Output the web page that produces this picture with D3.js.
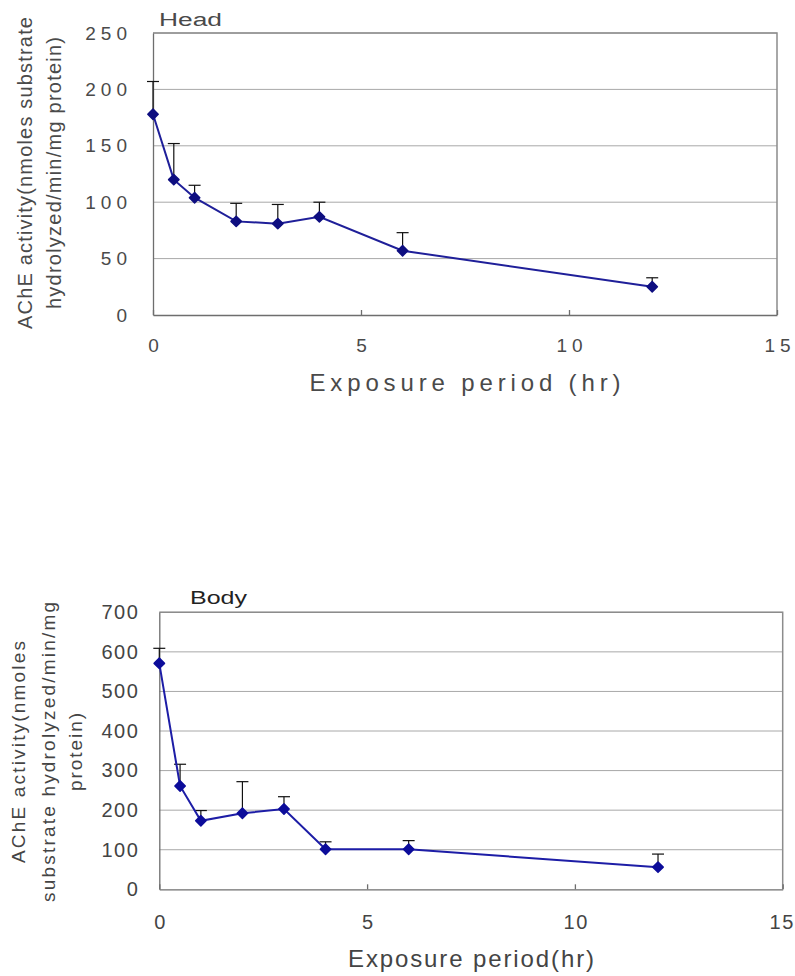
<!DOCTYPE html>
<html lang="en">
<head>
  <meta charset="UTF-8"/>
  <title>AChE activity vs exposure period</title>
  <style>
    * { margin: 0; padding: 0; }
    body { background: #fff; width: 795px; height: 976px; overflow: hidden; }
    svg { display: block; font-family: "Liberation Sans", Arial, sans-serif; }
    .grid { stroke: #a8a8a8; stroke-width: 1px; }
    .frame { stroke: #8c8c8c; stroke-width: 1.5px; fill: none; }
    .axis path, .axis line { stroke: #6e6e6e; stroke-width: 1.3px; }
    .err { stroke: #111; stroke-width: 1.2px; }
  </style>
</head>
<body>
<script src="https://cdn.jsdelivr.net/npm/d3@7/dist/d3.min.js"></script>
<script>
// --- data ---
const hours     = [0, 0.5, 1, 2, 3, 4, 6, 12]
const headMean  = [178, 120, 104, 83, 81, 87, 57, 25]
const headErr   = [29, 32, 11, 16, 17, 13, 16, 8]
const bodyMean  = [571, 261, 173, 192, 203, 101, 101, 56]
const bodyErr   = [38, 55, 26, 80, 31, 19, 22, 33]
const xTicks     = [0, 5, 10, 15]
const headYTicks = [0, 50, 100, 150, 200, 250]
const bodyYTicks = [0, 100, 200, 300, 400, 500, 600, 700]

const svg = d3.select('body').append('svg')
  .attr('width', 795).attr('height', 976)

function panel(cfg) {
  const x = d3.scaleLinear().domain([0, 15]).range([cfg.left, cfg.right])
  const y = d3.scaleLinear().domain([0, d3.max(cfg.yTicks)]).range([cfg.bottom, cfg.top])
  const g = svg.append('g')

  // horizontal gridlines
  g.selectAll('line.grid')
    .data(cfg.yTicks.filter(v => v > 0))
    .join('line').attr('class', 'grid')
      .attr('x1', cfg.left).attr('x2', cfg.right)
      .attr('y1', d => y(d)).attr('y2', d => y(d))

  // top and right border of the plot box
  g.append('path').attr('class', 'frame')
    .attr('d', `M${cfg.left},${cfg.top}H${cfg.right}V${cfg.bottom}`)

  // x axis: small inside ticks
  const xa = g.append('g').attr('class', 'axis')
    .attr('transform', `translate(0,${cfg.bottom})`)
    .call(d3.axisBottom(x).tickValues(xTicks).tickSizeInner(-5).tickSizeOuter(0).tickPadding(cfg.xPad))
  xa.selectAll('text')
    .attr('fill', cfg.textColor).attr('font-size', cfg.tickFont)
    .style('letter-spacing', cfg.tickSpacing + 'px')
    .attr('dx', d => d === 15 ? cfg.lastDx : cfg.tickSpacing / 2)

  // y axis
  const ya = g.append('g').attr('class', 'axis')
    .attr('transform', `translate(${cfg.left},0)`)
    .call(d3.axisLeft(y).tickValues(cfg.yTicks).tickSize(0).tickPadding(cfg.yPad))
  ya.selectAll('text')
    .attr('fill', cfg.textColor).attr('font-size', cfg.tickFont)
    .style('letter-spacing', cfg.tickSpacing + 'px')
  ya.select('.domain').attr('stroke', '#6e6e6e')

  // error bars (upper only)
  const pts = hours.map((h, i) => ({ h, m: cfg.mean[i], e: cfg.err[i] }))
  const eb = g.append('g')
  eb.selectAll('line.v').data(pts).join('line').attr('class', 'err')
    .attr('x1', d => x(d.h)).attr('x2', d => x(d.h))
    .attr('y1', d => y(d.m)).attr('y2', d => y(d.m + d.e))
  eb.selectAll('line.c').data(pts).join('line').attr('class', 'err')
    .attr('x1', d => x(d.h) - 6).attr('x2', d => x(d.h) + 6)
    .attr('y1', d => y(d.m + d.e)).attr('y2', d => y(d.m + d.e))

  // series line
  g.append('path').datum(pts)
    .attr('fill', 'none').attr('stroke', cfg.lineColor).attr('stroke-width', 2)
    .attr('d', d3.line().x(d => x(d.h)).y(d => y(d.m)))

  // diamond markers
  const sym = d3.symbol().type(d3.symbolSquare).size(54)
  g.selectAll('path.mk').data(pts).join('path')
    .attr('d', sym)
    .attr('transform', d => `translate(${x(d.h)},${y(d.m)}) rotate(45)`)
    .attr('fill', cfg.markColor).attr('stroke', cfg.markColor)
    .attr('stroke-width', 1.5).attr('stroke-linejoin', 'round')

  // panel title
  g.append('text')
    .attr('x', cfg.title.x).attr('y', cfg.title.y)
    .attr('font-size', cfg.title.size).attr('fill', cfg.title.color)
    .attr('textLength', cfg.title.len).attr('lengthAdjust', 'spacingAndGlyphs')
    .text(cfg.title.text)

  // x axis label
  g.append('text')
    .attr('x', (cfg.left + cfg.right) / 2).attr('y', cfg.xLabel.y)
    .attr('text-anchor', 'middle')
    .attr('font-size', cfg.xLabel.size).attr('fill', cfg.textColor)
    .attr('textLength', cfg.xLabel.len)
    .text(cfg.xLabel.text)

  // rotated y label, one text per line
  cfg.yLabel.lines.forEach((t, i) => {
    g.append('text')
      .attr('transform', `translate(${cfg.yLabel.x[i]},${cfg.yLabel.cy}) rotate(-90)`)
      .attr('text-anchor', 'middle')
      .attr('font-size', cfg.yLabel.size).attr('fill', cfg.textColor)
      .attr('textLength', cfg.yLabel.len[i])
      .text(t)
  })
}

panel({
  left: 153, right: 777, top: 33, bottom: 315,
  yTicks: headYTicks, mean: headMean, err: headErr,
  textColor: '#4a4a4a', tickFont: 19, tickSpacing: 5, lastDx: 2.5, xPad: 24, yPad: 21,
  lineColor: '#1f1f99', markColor: '#0e0e80',
  title: { text: 'Head', x: 159, y: 26, size: 18, len: 63, color: '#4a4a4a' },
  xLabel: { text: 'Exposure period (hr)', y: 391, size: 24, len: 311 },
  yLabel: {
    lines: ['AChE activity(nmoles substrate', 'hydrolyzed/min/mg protein)'],
    x: [32, 61], cy: 173, size: 20, len: [312, 272]
  }
})

panel({
  left: 159.3, right: 782.7, top: 612.3, bottom: 889.3,
  yTicks: bodyYTicks, mean: bodyMean, err: bodyErr,
  textColor: '#444', tickFont: 20, tickSpacing: 1.5, lastDx: -1, xPad: 26, yPad: 20,
  lineColor: '#1d1da6', markColor: '#0c0c9a',
  title: { text: 'Body', x: 190, y: 604, size: 19, len: 57, color: '#222' },
  xLabel: { text: 'Exposure period(hr)', y: 967, size: 24, len: 246 },
  yLabel: {
    lines: ['AChE activity(nmoles', 'substrate hydrolyzed/min/mg', 'protein)'],
    x: [25, 55, 82], cy: 752, size: 19, len: [222, 300, 78]
  }
})
</script>
</body>
</html>
